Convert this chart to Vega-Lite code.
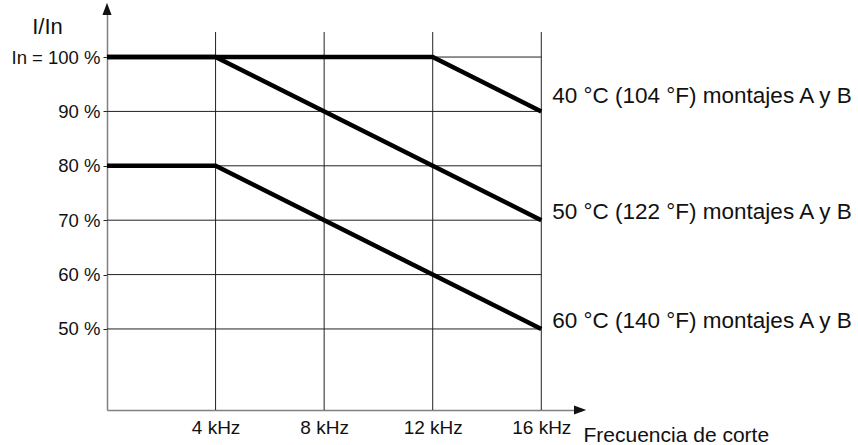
{
  "$schema": "https://vega.github.io/schema/vega-lite/v6.json",
  "width": 475,
  "height": 403,
  "autosize": "none",
  "padding": {"left": 107, "top": 7, "right": 276, "bottom": 35},
  "background": "white",
  "config": {"view": {"stroke": null}, "font": "Liberation Sans", "axis": {"grid": false}},
  "datasets": {
    "curves": [
      {"serie": "40", "f": 0, "pct": 100},
      {"serie": "40", "f": 12, "pct": 100},
      {"serie": "40", "f": 16, "pct": 90},
      {"serie": "50", "f": 0, "pct": 100},
      {"serie": "50", "f": 4, "pct": 100},
      {"serie": "50", "f": 16, "pct": 70},
      {"serie": "60", "f": 0, "pct": 80},
      {"serie": "60", "f": 4, "pct": 80},
      {"serie": "60", "f": 16, "pct": 50}
    ],
    "hgrid": [{"pct": 50}, {"pct": 60}, {"pct": 70}, {"pct": 80}, {"pct": 90}, {"pct": 100}],
    "vgrid": [{"f": 4}, {"f": 8}, {"f": 12}, {"f": 16}],
    "labels": [
      {"f": 16, "pct": 91.6, "text": "40 °C (104 °F) montajes A y B"},
      {"f": 16, "pct": 70.3, "text": "50 °C (122 °F) montajes A y B"},
      {"f": 16, "pct": 50.2, "text": "60 °C (140 °F) montajes A y B"}
    ],
    "arrowUp": [{"f": 0, "pct": 107.73}],
    "arrowRight": [{"f": 17.205, "pct": 35.1}]
  },
  "layer": [
    {
      "data": {"name": "hgrid"},
      "mark": {"type": "rule", "color": "#222", "strokeWidth": 1},
      "encoding": {
        "y": {"field": "pct", "type": "quantitative", "scale": {"domain": [35.1, 109.2], "zero": false, "nice": false}},
        "x": {"datum": 0, "type": "quantitative", "scale": {"domain": [0, 17.5], "zero": false, "nice": false}},
        "x2": {"datum": 16}
      }
    },
    {
      "data": {"name": "vgrid"},
      "mark": {"type": "rule", "color": "#222", "strokeWidth": 1},
      "encoding": {
        "x": {"field": "f", "type": "quantitative", "scale": {"domain": [0, 17.5], "zero": false, "nice": false}},
        "y": {"datum": 35.1, "type": "quantitative", "scale": {"domain": [35.1, 109.2], "zero": false, "nice": false}},
        "y2": {"datum": 104.6}
      }
    },
    {
      "data": {"name": "curves"},
      "mark": {"type": "line", "color": "#000", "strokeWidth": 4.5},
      "encoding": {
        "x": {
          "field": "f", "type": "quantitative",
          "scale": {"domain": [0, 17.5], "zero": false, "nice": false},
          "axis": {
            "values": [4, 8, 12, 16],
            "labelExpr": "datum.value + ' kHz'",
            "grid": false, "ticks": false,
            "domainColor": "#808080", "domainWidth": 1.5,
            "labelPadding": 8, "labelBaseline": "top",
            "labelFontSize": 19, "labelColor": "#111", "labelFont": "Liberation Sans",
            "labelFlush": false, "labelOverlap": false,
            "title": "Frecuencia de corte", "titleX": 476, "titleY": 31,
            "titleAlign": "left", "titleBaseline": "alphabetic",
            "titleFontSize": 21, "titleFontWeight": "normal", "titleColor": "#111",
            "titleFont": "Liberation Sans",
            "encode": {"labels": {"update": {"dx": {"signal": "datum.value == 4 ? 12 : 0"}}}}
          }
        },
        "y": {
          "field": "pct", "type": "quantitative",
          "scale": {"domain": [35.1, 109.2], "zero": false, "nice": false},
          "axis": {
            "values": [50, 60, 70, 80, 90, 100],
            "labelExpr": "datum.value == 100 ? 'In = 100 %' : datum.value + ' %'",
            "grid": false,
            "domainColor": "#808080", "domainWidth": 1.5,
            "tickColor": "#222", "tickSize": 4, "tickWidth": 1,
            "labelFontSize": 18.5, "labelColor": "#111", "labelPadding": 3,
            "labelFont": "Liberation Sans", "labelOverlap": false,
            "title": "I/In", "titleAngle": 0, "titleX": -60, "titleY": 26,
            "titleAlign": "center", "titleBaseline": "alphabetic",
            "titleFontSize": 22, "titleFontWeight": "normal", "titleColor": "#111",
            "titleFont": "Liberation Sans"
          }
        },
        "detail": {"field": "serie"}
      }
    },
    {
      "data": {"name": "labels"},
      "mark": {"type": "text", "align": "left", "baseline": "alphabetic", "dx": 11, "fontSize": 22.5, "color": "#111", "font": "Liberation Sans"},
      "encoding": {
        "x": {"field": "f", "type": "quantitative", "scale": {"domain": [0, 17.5], "zero": false, "nice": false}},
        "y": {"field": "pct", "type": "quantitative", "scale": {"domain": [35.1, 109.2], "zero": false, "nice": false}},
        "text": {"field": "text"}
      }
    },
    {
      "data": {"name": "arrowUp"},
      "mark": {"type": "point", "shape": "M0,-1L0.375,0L-0.375,0Z", "filled": true, "size": 600, "color": "#111", "opacity": 1},
      "encoding": {
        "x": {"field": "f", "type": "quantitative", "scale": {"domain": [0, 17.5], "zero": false, "nice": false}},
        "y": {"field": "pct", "type": "quantitative", "scale": {"domain": [35.1, 109.2], "zero": false, "nice": false}}
      }
    },
    {
      "data": {"name": "arrowRight"},
      "mark": {"type": "point", "shape": "M1,0L0,-0.375L0,0.375Z", "filled": true, "size": 600, "color": "#111", "opacity": 1},
      "encoding": {
        "x": {"field": "f", "type": "quantitative", "scale": {"domain": [0, 17.5], "zero": false, "nice": false}},
        "y": {"field": "pct", "type": "quantitative", "scale": {"domain": [35.1, 109.2], "zero": false, "nice": false}}
      }
    }
  ]
}
